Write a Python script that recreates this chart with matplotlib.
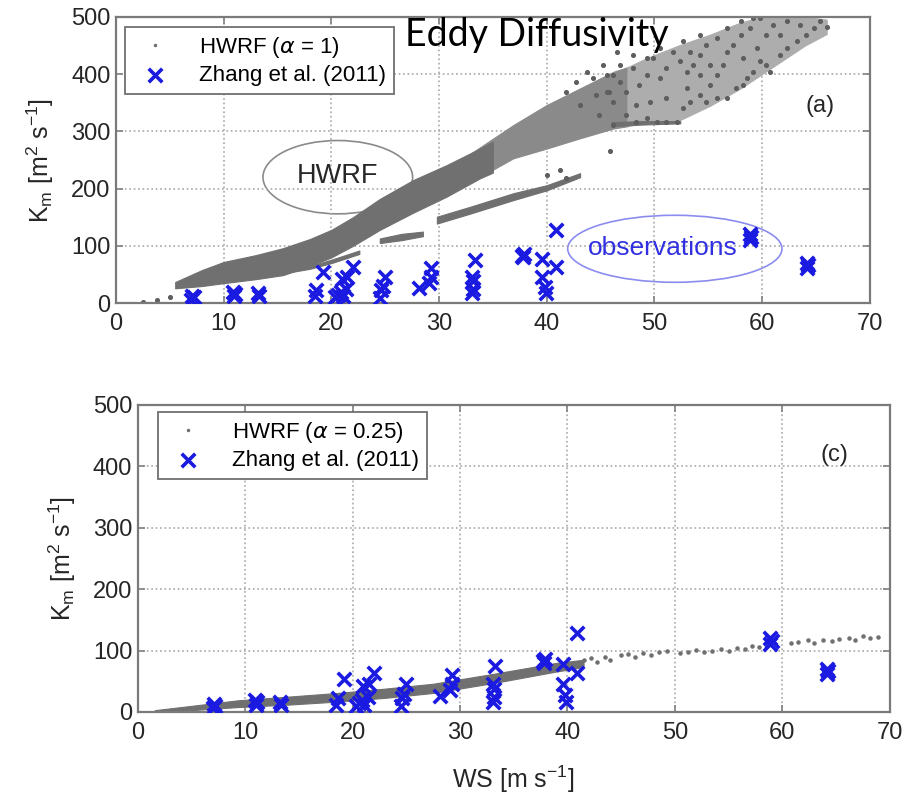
import numpy as np
import matplotlib.pyplot as plt
from matplotlib.patches import Ellipse

plt.rcParams['font.family'] = ['Liberation Sans', 'DejaVu Sans']

# Zhang et al. (2011) observations: wind speed [m/s] vs Km [m2/s]
obs_ws = [7.0, 7.2, 7.1, 11.0, 11.1, 10.9, 13.3, 13.2, 18.5, 18.6, 19.2,
          20.3, 20.6, 20.9, 21.1, 21.4, 21.0, 22.0, 21.5, 24.5, 24.6, 24.8, 25.0,
          28.1, 29.3, 29.3, 29.1, 33.1, 33.3, 33.1, 33.2, 33.2, 37.8, 37.9, 37.7,
          39.6, 39.6, 39.8, 39.9, 40.9, 40.9, 58.9, 59.0, 58.9, 64.2, 64.3, 64.2]
obs_km = [6, 10, 13, 12, 16, 19, 12, 17, 12, 23, 54,
          10, 14, 20, 12, 25, 42, 63, 46, 9, 23, 30, 46,
          26, 61, 46, 35, 17, 75, 46, 38, 25, 80, 86, 83,
          78, 46, 28, 17, 128, 63, 110, 116, 120, 62, 66, 70]

# HWRF alpha = 1 : solid part of the band (envelope)
a_band_x = [5.5, 8, 10, 13, 15.5, 18, 20, 22, 24.5, 27.6, 30.7, 33.8, 35]
a_band_hi = [37, 58, 72, 84, 96, 112, 128, 150, 182, 215, 241, 270, 282]
a_band_lo = [26, 30, 35, 42, 49, 65, 80, 100, 128, 158, 186, 218, 228]
# speckled part of the cloud, denser then sparser
a_sp1_x = [33, 36.9, 40, 43.1, 46.2, 47.5]
a_sp1_hi = [262, 311, 346, 375, 404, 412]
a_sp1_lo = [212, 253, 270, 288, 305, 309]
a_sp2_x = [47.5, 49.3, 52.4, 55.2, 58, 60, 62, 64, 66]
a_sp2_hi = [412, 428, 451, 469, 490, 500, 500, 500, 495]
a_sp2_lo = [309, 317, 320, 345, 375, 400, 425, 450, 470]
# thin streaks
a_tail_x = [46, 49, 52.4]
a_tail_lo = [309, 312, 314]
a_tail_hi = [316, 318, 318]
a_s1_x = [15.5, 18, 20, 22.6]
a_s1_lo = [52, 60, 70, 86]
a_s1_hi = [56, 65, 76, 92]
a_s2_x = [24.5, 26.5, 28.5]
a_s2_lo = [105, 110, 117]
a_s2_hi = [113, 121, 125]
a_s3_x = [29.8, 33, 36.9, 40, 43.1]
a_s3_lo = [139, 157, 180, 197, 220]
a_s3_hi = [151, 169, 192, 206, 227]
# scattered dots of the upper cloud
a_pts_x = [2.5, 3.8, 5.0, 41.2, 41.8, 40.0, 45.9, 41.8, 42.7, 43.7, 44.3, 45.2,
           46.2, 43.1, 44.6, 45.8, 44.9, 59.8, 61.0, 62.3, 63.5, 64.8, 65.4, 66.0, 64.1, 63.2,
           62.3, 61.7, 60.7, 60.4, 58.9, 58.0, 57.3, 56.7, 55.8, 54.8, 54.2, 53.6, 53.0, 52.4,
           51.7, 51.1, 50.5, 49.9, 49.3, 48.6, 48.0, 47.4, 46.8, 46.2, 45.6, 58.2, 57.6, 56.7,
           55.8, 54.8, 54.2, 53.3, 52.7, 52.1, 51.1, 50.2, 49.3, 48.3, 47.4, 46.2, 59.8, 59.2,
           58.6, 55.8, 55.2, 53.0, 51.1, 49.6, 48.3, 55.2, 56.4, 54.2, 53.3, 52.7, 54.2, 56.7,
           58.0, 59.2, 60.4, 61.7, 59.5, 58.2, 50.5, 49.3, 48.0, 46.8, 45.6, 46.5]
a_pts_y = [2, 5, 10, 233, 218, 224, 265, 369, 387, 404, 393, 416,
           399, 346, 364, 369, 329, 498, 486, 492, 486, 480, 492, 483, 468, 457,
           445, 434, 404, 416, 480, 469, 451, 439, 463, 451, 434, 416, 404, 422,
           439, 410, 393, 428, 399, 381, 410, 369, 387, 352, 369, 381, 375, 358,
           358, 352, 364, 352, 340, 317, 317, 317, 323, 317, 329, 311, 422, 404,
           393, 399, 381, 375, 358, 352, 346, 416, 416, 399, 439, 457, 469, 480,
           492, 498, 469, 469, 445, 428, 445, 428, 434, 416, 399, 439]

# HWRF alpha = 0.25 : band plus scattered dots
c_band_x = [1.6, 5, 9.3, 14, 18.6, 23, 27.5, 33.4, 39, 41.5]
c_band_lo = [0, 3, 8, 12, 17, 23, 31, 48, 66, 73]
c_band_hi = [3, 10, 19, 25, 31, 38, 46, 63, 80, 85]
c_pts_x = [41.5, 42.2, 42.8, 43.5, 44.0, 45.0, 45.6, 46.3, 47.0, 47.8, 48.5, 49.3,
           50.5, 51.2, 52.0, 52.7, 53.5, 54.3, 55.0, 55.8, 56.5, 57.2, 57.8,
           60.8, 61.5, 62.4, 63.0, 63.8, 64.6, 65.3, 66.2, 66.8, 67.5, 68.2, 68.9]
c_pts_y = [84, 88, 82, 90, 85, 92, 95, 90, 96, 93, 97, 99,
           96, 98, 101, 97, 100, 103, 99, 104, 102, 107, 105,
           112, 114, 117, 113, 118, 115, 119, 121, 117, 123, 120, 122]

GREY = '#707070'
BLUE = '#1a1ae0'
TXT = '#262626'

fig = plt.figure(figsize=(9.06, 8), dpi=100)
ax1 = fig.add_axes([0.128, 0.621, 0.832, 0.358])
ax2 = fig.add_axes([0.152, 0.110, 0.830, 0.384])


def style(ax):
    ax.set_xlim(0, 70)
    ax.set_ylim(0, 500)
    ax.set_xticks(range(0, 71, 10))
    ax.set_yticks(range(0, 501, 100))
    ax.grid(True, linestyle=':', color='#a8a8a8', linewidth=1.2)
    ax.tick_params(direction='in', top=True, right=True, length=5, width=1.2,
                   color='#808080', labelsize=17, labelcolor=TXT)
    ax.tick_params(axis='x', pad=7)
    ax.tick_params(axis='y', pad=4)
    for s in ax.spines.values():
        s.set_color('#7a7a7a')
        s.set_linewidth(1.6)
    ax.set_ylabel('K$_\\mathregular{m}$ [m$^\\mathregular{2}$ s$^\\mathregular{-1}$]',
                  fontsize=18, color=TXT, labelpad=11)


def legend(ax, anchor):
    leg = ax.legend(loc='upper left', bbox_to_anchor=anchor, borderaxespad=0,
                    fontsize=16, fancybox=False, edgecolor='#707070', framealpha=1,
                    handlelength=2.0, handletextpad=1.0, labelspacing=0.25,
                    borderpad=0.35)
    leg.get_frame().set_linewidth(1.3)


# top panel (a)
ax1.fill_between(a_sp1_x, a_sp1_lo, a_sp1_hi, color='#8a8a8a', lw=0.8, zorder=2)
ax1.fill_between(a_sp2_x, a_sp2_lo, a_sp2_hi, color='#adadad', lw=0.8, zorder=2)
for bx, blo, bhi in [(a_band_x, a_band_lo, a_band_hi), (a_s1_x, a_s1_lo, a_s1_hi),
                     (a_s2_x, a_s2_lo, a_s2_hi), (a_s3_x, a_s3_lo, a_s3_hi),
                     (a_tail_x, a_tail_lo, a_tail_hi)]:
    ax1.fill_between(bx, blo, bhi, color=GREY, lw=0.8, zorder=2)
ax1.scatter(a_pts_x, a_pts_y, s=7, color='#5e5e5e', zorder=2)
ax1.plot([], [], '.', color=GREY, markersize=3, label='HWRF ($\\alpha$ = 1)')
ax1.scatter(obs_ws, obs_km, marker='x', s=95, linewidths=2.6, color=BLUE, zorder=3,
            label='Zhang et al. (2011)')
style(ax1)
ax1.add_patch(Ellipse((20.6, 220), 13.9, 128, fill=False, edgecolor='#8a8a8a', lw=1.2))
ax1.text(20.6, 222, 'HWRF', fontsize=19.5, color=TXT, ha='center', va='center')
ax1.add_patch(Ellipse((51.9, 95), 19.9, 117, fill=False, edgecolor='#8c8cf0', lw=1.2))
ax1.text(50.8, 96, 'observations', fontsize=19, color='#3030e0', ha='center', va='center')
ax1.text(65.4, 345, '(a)', fontsize=17, color=TXT, ha='center', va='center')
legend(ax1, (0.012, 0.965))

# bottom panel (c)
ax2.fill_between(c_band_x, c_band_lo, c_band_hi, color=GREY, lw=0.8, zorder=2)
ax2.scatter(c_pts_x, c_pts_y, s=5, color=GREY, zorder=2)
ax2.plot([], [], '.', color=GREY, markersize=3, label='HWRF ($\\alpha$ = 0.25)')
ax2.scatter(obs_ws, obs_km, marker='x', s=95, linewidths=2.6, color=BLUE, zorder=3,
            label='Zhang et al. (2011)')
style(ax2)
ax2.set_xlabel('WS [m s$^\\mathregular{-1}$]', fontsize=18, color=TXT, labelpad=14)
ax2.text(64.9, 419, '(c)', fontsize=17, color=TXT, ha='center', va='center')
legend(ax2, (0.027, 0.977))

fig.text(0.447, 0.956, 'Eddy Diffusivity', fontsize=27, family=['Lato', 'DejaVu Sans'],
         color='black', ha='left', va='center')

fig.savefig('out.png', dpi=100)
